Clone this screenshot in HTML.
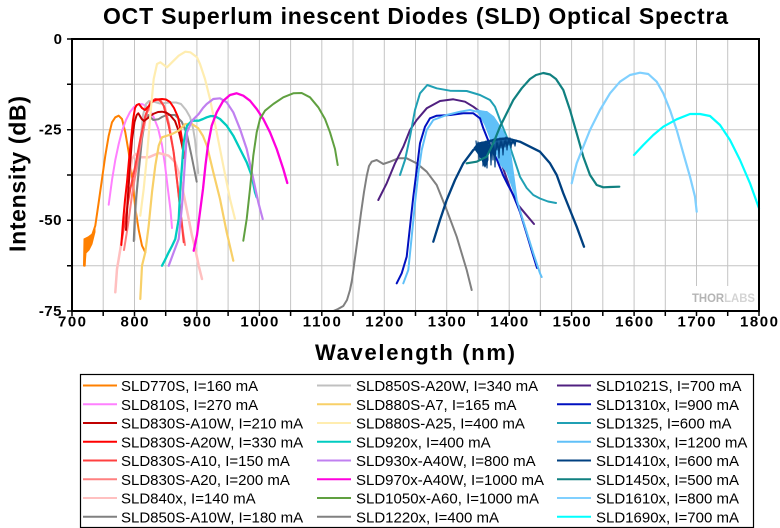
<!DOCTYPE html>
<html>
<head>
<meta charset="utf-8">
<style>
html,body{margin:0;padding:0;background:#fff;}
svg{display:block;}
text{font-family:"Liberation Sans",Arial,sans-serif;}
</style>
</head>
<body>
<svg width="780" height="528" viewBox="0 0 780 528" xmlns="http://www.w3.org/2000/svg">
<rect x="0" y="0" width="780" height="528" fill="#fff"/>

<!-- Title -->
<text x="103" y="24" font-size="23" font-weight="bold" fill="#000" textLength="625" lengthAdjust="spacing">OCT Superlum inescent Diodes (SLD) Optical Spectra</text>

<!-- Grid -->
<g stroke="#C4C4C4" stroke-width="1" fill="none">
<path d="M103.2,39V311M134.5,39V311M165.7,39V311M196.9,39V311M228.1,39V311M259.4,39V311M290.6,39V311M321.8,39V311M353,39V311M384.3,39V311M415.5,39V311M446.7,39V311M477.9,39V311M509.2,39V311M540.4,39V311M571.6,39V311M602.8,39V311M634.1,39V311M665.3,39V311M696.5,39V311M727.7,39V311"/>
<path d="M72,84.3H759M72,129.7H759M72,175H759M72,220.3H759M72,265.7H759"/>
</g>

<!-- THORLABS watermark -->
<rect x="688" y="286" width="69" height="24" fill="#fff"/>
<text x="692" y="302" font-size="12" font-weight="bold" textLength="63" lengthAdjust="spacingAndGlyphs"><tspan fill="#B4B4B4">THOR</tspan><tspan fill="#D4D4D4">LABS</tspan></text>

<!-- Series -->
<g fill="none" stroke-width="2" stroke-linejoin="round" stroke-linecap="round">
<!-- SLD770S -->
<polygon points="83.5,266 85,266 86,253 89,250 92,244 95,232 95,226 92,234 88,237 84,239" fill="#FF8000" stroke="#FF8000" stroke-width="1"/>
<polyline stroke="#FF8000" points="84.7,265.7 84.7,240 88,238 92,235.7 95.3,225.7 98.7,202.3 102,179 105.3,155.7 108.7,135.7 112,122.3 115.3,117.3 118.7,115.7 122,119 125.3,132.3 128.7,152.3 132,176 135.3,208 138.7,230 142,245.7 145.3,252.3"/>
<!-- SLD810S -->
<polyline stroke="#FF80FF" points="108.7,204.7 112,180 115.3,160 118.7,144 122,131 126,120 130,112 134,107 138,104.5 142,104 146,106 150,110 154,118 158,128 162,145 165,165 168,190 170.5,210 172,228"/>
<!-- SLD840x -->
<polyline stroke="#FFC0C0" stroke-width="2.5" points="115.3,292.3 117,269 118.7,259 122,239 125.3,212.3 128.7,182.3 132,159 135.3,154 140.3,157.3 148.7,157.3 158.7,153 168.7,155.7 175.3,162.3 178.7,172.3 182,185.7 185.3,202.3 188.7,219 192,235.7 195.3,249 198.7,265.7 202,279"/>
<!-- SLD850S-A20W -->
<polyline stroke="#C0C0C0" points="134.5,240 135.5,215 137,190 139,160 141,135 143,115 146,104 149,101 155,102 160,103.5 165,103 170,102.5 176,102.5 181,104 186,110 190,117 193,128 195,140 197,160 198.3,173"/>
<!-- SLD850S-A10W -->
<polyline stroke="#808080" points="133.7,241 135.3,206 138.7,172 142,139 145.3,119 148.3,115 153.3,120 158.3,119.3 162,117 166.7,115 175,115 181.7,121.7 186.7,133.3 191.7,156.7 196.7,181.7"/>
<!-- SLD830S-A20 -->
<polyline stroke="#FF8080" points="124,250 128,225 132,195 137,165 142,135 147,113 152,102 157,100 161,101 165,108 169,124 173,148 177,180 180,208 183,232 185,245"/>
<!-- SLD830S-A10 -->
<polyline stroke="#FF4040" points="122,239 125.3,219 130.3,189 135.3,165.7 140.3,139 145.3,115.7 150.3,102.3 155.3,99 159.3,99.7 163.7,105.7 168.7,125.7 173.7,152.3 178,189 181.3,219 183.7,242.3"/>
<!-- SLD830S-A10W -->
<polyline stroke="#C00000" points="126,230 128,195 130,165 132,140 134.5,122 136.7,115 138.3,113.3 141.7,119 144,121 148,118 153,114 158,112 162,111.7 166,112.5 170,115 175,121 179,132 182,145 184,155"/>
<!-- SLD830S-A20W -->
<polyline stroke="#FF0000" points="121.3,245 123,222 125,200 127,182 129,160 131,140 133,120 135,108 136.7,105 139,104 142,108 145,110 149,106 153,101 157,99.5 162,99 166,99.5 170,102 174,108 178,117 181,133 183,147 184,158"/>
<!-- SLD880S-A25 -->
<polyline stroke="#FFEDB0" stroke-width="2.2" points="140.3,215.7 143.7,189 147,155.7 150.3,115.7 153.7,79 157,64 160.3,62.3 167,67.3 172,62.3 178.7,55.7 185.3,51.7 190.3,52.3 197,57.3 200,64 205,79 210,99 216.7,132.3 223.3,165.7 230,199 235,219"/>
<!-- SLD880S-A7 -->
<polyline stroke="#F8D068" stroke-width="2.2" points="140.3,299 142,265.7 145.3,252.3 148.7,225.7 152,192.3 155.3,165.7 158.7,145.7 162,137.3 167,135.7 172,134 178.7,130.7 185.3,124 192,124 198,128 203,136 207,146 213.3,172.3 220,199 226.7,232.3 233.3,260.7"/>
<!-- SLD920x -->
<polyline stroke="#00CCC0" stroke-width="2.3" points="162,265.7 165,260 168.7,252.3 172,246 175.3,239 178.7,219 180.3,189 182,165.7 183.7,142.3 187,125.7 192,120.7 198.7,120.7 203,119 206.7,117.3 211,116 215,116.3 220,119 226.7,125.7 233.3,135.7 240,149 246.7,162.3 251.7,175.7 255,192.3 256.7,197.3"/>
<!-- SLD930x-A40W -->
<polyline stroke="#C080F0" stroke-width="2.2" points="168.7,265.7 173.7,252.3 178.7,239 182,205.7 184.7,165.7 187,132.3 192,120.7 198.7,114 203,108 206.7,104 213.3,99 220,98.3 226.7,102.3 233.3,112.3 240,129 246.7,149 253.3,179 258.3,202.3 262.7,219"/>
<!-- SLD970x-A40W -->
<polyline stroke="#FF00DD" stroke-width="2.3" points="193.7,250.7 197,235 200,212 203,189 205.5,165 208,145 211.7,125.7 216.7,112.3 223.3,100.7 230,95 236.7,93.3 243.3,95.7 250,100.7 256.7,109 263.3,119 270,132.3 276.7,149 283.3,169 287.3,183"/>
<!-- SLD1050x-A60 -->
<polyline stroke="#60A040" points="243.3,240.7 246.7,219 250,189 253.3,155.7 256.7,132.3 260,119 265,110.7 273.3,104 283.3,97.3 293.3,93.3 301.7,93 310,97.3 318.3,107.3 325,119 330,132.3 335,149 337.7,165"/>
<!-- SLD1220x -->
<polyline stroke="#808080" points="333.3,311 338,309 343.3,306 347,300 350,290 352,280 355,258 358,236 361,213 364,192 366.7,176 369,166 371.7,161.7 376.7,160 383.3,164 390,161.7 398.3,158.3 406.7,158.3 416.7,163.3 426.7,171.7 436.7,185 446.7,210 456.7,236.7 466.7,270 471.7,290"/>
<!-- SLD1021S -->
<polyline stroke="#502080" points="378.3,200 386.7,183.3 395,163.3 403.3,146.7 410,130 416.7,120 426.7,108.3 440,101 453.3,99.3 465,101.7 473.3,106.7 480,111.7 488,125 495,145 502,165 510,188 516.7,203.3 525,213.3 534,224"/>
<!-- SLD1325 -->
<polyline stroke="#20A0B4" points="400,175 405,160 410,136.7 415,110 420,93.3 427.3,85 436.7,88.3 450,90.7 466.7,91 480,95 490,100 495,106.7 500,120 506.7,136.7 513.3,156.7 520,176.7 526.7,188 533.3,195 540,198.5 548,201.5 556,203"/>
<!-- SLD1330x band -->
<polygon fill="#60C0F8" stroke="#60C0F8" stroke-width="1" points="476.7,110 486.7,111.7 493.3,116.7 500,126.7 506.7,138 510,150 512,165 516.7,200 506.7,172 500,164 495,150 490,138 485,125 480,116"/>
<!-- SLD1310x -->
<polyline stroke="#0010C0" points="396.7,283.3 401.7,273.3 406.7,256.7 410,226.7 413.3,196.7 416.7,170 420,143.3 425,126.7 430,118.3 436.7,115.7 450,115 463.3,113.3 473.3,113.3 480,118.3 483.3,128.3 490,145 497,160 503,175 508,185 513.3,195 520,212 527,235 533,255 537,268"/>
<!-- SLD1330x -->
<polyline stroke="#60C0F8" points="403.3,283.3 408.3,270 411.7,236.7 415,203.3 418.3,173.3 421.7,150 426.7,130 433.3,120 446.7,115 460,111.7 470,110 476.7,111.7 486.7,112 493.3,117 500,127 506.7,140 510,152 512,166 516.7,200 525,226.7 533.3,253.3 540,273.3 541.7,277"/>
<!-- SLD1410x -->
<polygon fill="#004080" stroke="#004080" stroke-width="1" points="474,148 478,143 488,141 488,160 485,167 482,160 479,155"/>
<polyline stroke="#004080" stroke-width="1.2" points="476,141 477,150 478,142 479,160 480,143 481,155 482,142 483,166 484,142 485,158 486,141 487,168 488,141 489,152 490,140 491,165 492,140 493,160 494,139 495,167 496,139 497,150 498,139 499,158 500,138 501,148 502,138 503,155 504,138 505,147 506,137 507,150 508,138 509,145 510,138 511,148 512,139 513,144 514,140 515,146 516,140"/>
<polyline stroke="#004080" stroke-width="2.3" points="433.3,241.7 440,220 446.7,200 455,180 463.3,163.3 473.3,150 483.3,143.3 493.3,140 506.7,138.3 520,141.7 530,146.7 540,151.7 550,163.3 556.7,175 563.3,193.3 570,210 576.7,226.7 584,246.7"/>
<!-- SLD1450x -->
<polyline stroke="#108080" stroke-width="2.2" points="466.7,163.3 476.7,161.7 486.7,156.7 493.3,143.3 500,126.7 506.7,113.3 513.3,100 521.7,88.3 530,79 536,75 543.3,73 550,74.5 556,79 563.3,90 570,110 576.7,133.3 583.3,156.7 590,175 596.7,185 603.3,187.3 610,187 619.3,186.7"/>
<!-- SLD1610x -->
<polyline stroke="#80D0FF" stroke-width="2.2" points="571.7,183.3 576.7,163.3 583.3,146.7 590,130 600,110 610,93.3 620,81.7 630,75 640,72.7 648.3,74 656.7,81.7 663.3,93.3 670,110 676.7,130 683.3,153.3 690,176.7 695,196.7 696.7,211.7"/>
<!-- SLD1690x -->
<polyline stroke="#00FFFF" stroke-width="2.2" points="634,155 643.3,145 653.3,135 663.3,126.7 676.7,119.3 690,114 700,114 710,116 720,125 730,140 740,160 750,183.3 759,208.3"/>
</g>

<!-- Axes frame -->
<g stroke="#000" fill="none">
<rect x="72" y="39" width="687" height="272" stroke-width="2"/>
<path stroke-width="1.5" d="M72,311v5M103.2,311v5M134.5,311v5M165.7,311v5M196.9,311v5M228.1,311v5M259.4,311v5M290.6,311v5M321.8,311v5M353,311v5M384.3,311v5M415.5,311v5M446.7,311v5M477.9,311v5M509.2,311v5M540.4,311v5M571.6,311v5M602.8,311v5M634.1,311v5M665.3,311v5M696.5,311v5M727.7,311v5M759,311v5"/>
<path stroke-width="1.5" d="M72,39h-5M72,84.3h-5M72,129.7h-5M72,175h-5M72,220.3h-5M72,265.7h-5M72,311h-5"/>
</g>

<!-- Y tick labels -->
<g font-size="15" font-weight="bold" fill="#000" text-anchor="end">
<text x="62" y="44">0</text>
<text x="62" y="134.5" letter-spacing="0.5">-25</text>
<text x="62" y="225" letter-spacing="0.5">-50</text>
<text x="62" y="316" letter-spacing="0.5">-75</text>
</g>

<!-- X tick labels -->
<g font-size="15" font-weight="bold" fill="#000">
<text x="58" y="326.5" textLength="28" lengthAdjust="spacing">700</text>
<text x="120.5" y="326.5" textLength="28" lengthAdjust="spacing">800</text>
<text x="182.9" y="326.5" textLength="28" lengthAdjust="spacing">900</text>
<text x="240.4" y="326.5" textLength="38" lengthAdjust="spacing">1000</text>
<text x="302.8" y="326.5" textLength="38" lengthAdjust="spacing">1100</text>
<text x="365.3" y="326.5" textLength="38" lengthAdjust="spacing">1200</text>
<text x="427.7" y="326.5" textLength="38" lengthAdjust="spacing">1300</text>
<text x="490.2" y="326.5" textLength="38" lengthAdjust="spacing">1400</text>
<text x="552.6" y="326.5" textLength="38" lengthAdjust="spacing">1500</text>
<text x="615.1" y="326.5" textLength="38" lengthAdjust="spacing">1600</text>
<text x="677.5" y="326.5" textLength="38" lengthAdjust="spacing">1700</text>
<text x="740" y="326.5" textLength="38" lengthAdjust="spacing">1800</text>
</g>

<!-- Axis titles -->
<text x="315" y="360" font-size="22" font-weight="bold" fill="#000" textLength="200" lengthAdjust="spacing">Wavelength (nm)</text>
<text transform="translate(25.5,174) rotate(-90)" text-anchor="middle" font-size="23" font-weight="bold" fill="#000" textLength="156" lengthAdjust="spacing">Intensity (dB)</text>

<!-- Legend -->
<rect x="80.5" y="374.5" width="673" height="153" fill="#fff" stroke="#000" stroke-width="1.2"/>
<g stroke-width="2" fill="none">
<path stroke="#FF8000" d="M83,385.5h34"/>
<path stroke="#FF80FF" d="M83,404.25h34"/>
<path stroke="#C00000" d="M83,423h34"/>
<path stroke="#FF0000" d="M83,441.75h34"/>
<path stroke="#FF4040" d="M83,460.5h34"/>
<path stroke="#FF8080" d="M83,479.25h34"/>
<path stroke="#FFC0C0" d="M83,498h34"/>
<path stroke="#808080" d="M83,516.75h34"/>

<path stroke="#C0C0C0" d="M317,385.5h34"/>
<path stroke="#F8D068" d="M317,404.25h34"/>
<path stroke="#FFEDB0" d="M317,423h34"/>
<path stroke="#00CCC0" d="M317,441.75h34"/>
<path stroke="#C080F0" d="M317,460.5h34"/>
<path stroke="#FF00DD" d="M317,479.25h34"/>
<path stroke="#60A040" d="M317,498h34"/>
<path stroke="#808080" d="M317,516.75h34"/>

<path stroke="#502080" d="M557,385.5h34"/>
<path stroke="#0010C0" d="M557,404.25h34"/>
<path stroke="#20A0B4" d="M557,423h34"/>
<path stroke="#60C0F8" d="M557,441.75h34"/>
<path stroke="#004080" d="M557,460.5h34"/>
<path stroke="#108080" d="M557,479.25h34"/>
<path stroke="#80D0FF" d="M557,498h34"/>
<path stroke="#00FFFF" d="M557,516.75h34"/>
</g>
<g font-size="15" fill="#000">
<text x="121" y="391">SLD770S, I=160 mA</text>
<text x="121" y="409.75">SLD810S, I=270 mA</text>
<text x="121" y="428.5">SLD830S-A10W, I=210 mA</text>
<text x="121" y="447.25">SLD830S-A20W, I=330 mA</text>
<text x="121" y="466">SLD830S-A10, I=150 mA</text>
<text x="121" y="484.75">SLD830S-A20, I=200 mA</text>
<text x="121" y="503.5">SLD840x, I=140 mA</text>
<text x="121" y="522.25">SLD850S-A10W, I=180 mA</text>

<text x="356" y="391">SLD850S-A20W, I=340 mA</text>
<text x="356" y="409.75">SLD880S-A7, I=165 mA</text>
<text x="356" y="428.5">SLD880S-A25, I=400 mA</text>
<text x="356" y="447.25">SLD920x, I=400 mA</text>
<text x="356" y="466">SLD930x-A40W, I=800 mA</text>
<text x="356" y="484.75">SLD970x-A40W, I=1000 mA</text>
<text x="356" y="503.5">SLD1050x-A60, I=1000 mA</text>
<text x="356" y="522.25">SLD1220x, I=400 mA</text>

<text x="596" y="391">SLD1021S, I=700 mA</text>
<text x="596" y="409.75">SLD1310x, I=900 mA</text>
<text x="596" y="428.5">SLD1325, I=600 mA</text>
<text x="596" y="447.25">SLD1330x, I=1200 mA</text>
<text x="596" y="466">SLD1410x, I=600 mA</text>
<text x="596" y="484.75">SLD1450x, I=500 mA</text>
<text x="596" y="503.5">SLD1610x, I=800 mA</text>
<text x="596" y="522.25">SLD1690x, I=700 mA</text>
</g>
</svg>
</body>
</html>
